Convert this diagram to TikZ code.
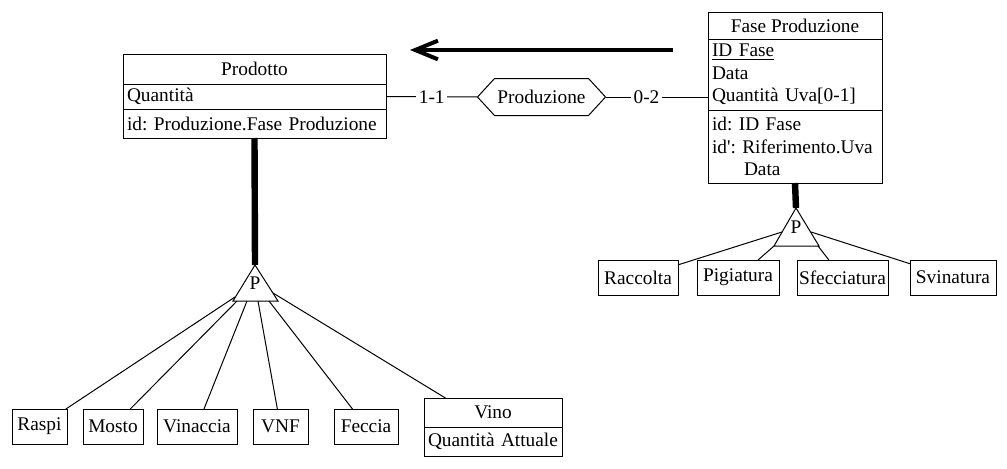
\documentclass[tikz,border=0pt]{standalone}
\usepackage{fontspec}
\setmainfont{Liberation Serif}
\usepackage{tikz}
\usetikzlibrary{arrows.meta}
\usetikzlibrary{fit}

\begin{document}
\begin{tikzpicture}[x=0.75pt, y=-0.75pt, line width=0.75pt,
    every node/.style={font=\fontsize{14.5}{16.9}\selectfont\frenchspacing},
    ent/.style={draw, rectangle, inner sep=0pt, outer sep=0pt},
    att/.style={ent, align=left, inner xsep=3pt},
    sub/.style={ent, minimum height=26.25pt},
    card/.style={fill=white, inner sep=2pt},
    isa/.style={line width=4.8pt}]
    \useasboundingbox (0,0) rectangle (1007,468);

    \node[ent, minimum width=197.25pt, minimum height=22.5pt] (prodotto) at (254.5,69) {Prodotto};
    \node[att, text width=191.25pt, minimum height=18.75pt] (prodq) at (254.5,96.5) {Quantità};
    \node[att, text width=191.25pt, minimum height=21.75pt] (prodid) at (254.5,123.5) {id: Produzione.Fase Produzione};

    \node[ent, minimum width=130.5pt, minimum height=20.25pt] (fase) at (795,25.5) {Fase Produzione};
    \node[att, text width=124.5pt, minimum height=53.25pt] (fasea) at (795,74.5) {\underline{ID Fase}\\Data\\Quantità Uva[0-1]};
    \node[att, text width=124.5pt, minimum height=54.75pt] (faseid) at (795,146.5) {id: ID Fase\\id\textquotesingle: Riferimento.Uva\\\hspace*{24pt}Data};

    \node[minimum width=95.25pt, minimum height=27pt, inner sep=0pt] (produzione) at (541.5,97) {Produzione};
    \draw (produzione.west) -- ([xshift=12.75pt]produzione.north west) -- ([xshift=-12.75pt]produzione.north east)
        -- (produzione.east) -- ([xshift=-12.75pt]produzione.south east) -- ([xshift=12.75pt]produzione.south west) -- cycle;
    \draw (prodq.east) -- node[card] (c11) {1-1} (produzione.west);
    \draw (produzione.east) -- node[card, pos=0.4] (c02) {0-2} (produzione.east -| fasea.west);

    \coordinate (freccia-a) at (673,50);
    \coordinate (freccia-b) at (410,50);
    \draw[line width=3pt, -{Straight Barb[length=17pt, width=14pt]}] (freccia-a) -- (freccia-b);

    % gerarchia prodotto
    \coordinate (tA) at (255,265);
    \coordinate (tL) at (233,301);
    \coordinate (tR) at (278,301);
    \draw (tA) -- (tL) -- (tR) -- cycle;
    \node[inner sep=0pt] (tp) at (255,283) {P};
    \draw[isa] (prodid.south) -- (tA);

    \node[sub, minimum width=41.25pt] (raspi) at (39.5,426.5) {Raspi};
    \node[sub, minimum width=45pt] (mosto) at (113,426.5) {Mosto};
    \node[sub, minimum width=60pt] (vinaccia) at (197,426.5) {Vinaccia};
    \node[sub, minimum width=41.25pt] (vnf) at (280.5,426.5) {VNF};
    \node[sub, minimum width=48pt] (feccia) at (366,426.5) {Feccia};
    \node[ent, minimum width=103.5pt, minimum height=21.75pt] (vino) at (493,412.5) {Vino};
    \node[att, text width=97.5pt, minimum height=21.75pt] (vinoq) at (493,441.5) {Quantità Attuale};
    \node[fit=(vino)(vinoq), inner sep=0pt, outer sep=0pt] (vinobox) {};

    \coordinate (t1) at (235,297);
    \coordinate (t2) at (237,301);
    \coordinate (t3) at (247,301);
    \coordinate (t4) at (258,301);
    \coordinate (t5) at (269,301);
    \coordinate (t6) at (273,293);
    \draw (t1) -- (raspi);
    \draw (t2) -- (mosto);
    \draw (t3) -- (vinaccia);
    \draw (t4) -- (vnf);
    \draw (t5) -- (feccia);
    \draw (t6) -- (vinobox);

    % gerarchia fase produzione
    \coordinate (uA) at (796,208);
    \coordinate (uL) at (774,246);
    \coordinate (uR) at (819,246);
    \draw (uA) -- (uL) -- (uR) -- cycle;
    \node[inner sep=0pt] (up) at (796,227) {P};
    \draw[isa] (faseid.south) -- (uA);

    \node[sub, minimum width=60pt] (raccolta) at (638,277.5) {Raccolta};
    \node[sub, minimum width=61.5pt] (pigiatura) at (738,277.5) {Pigiatura};
    \node[sub, minimum width=68.25pt] (sfecciatura) at (842.5,277.5) {Sfecciatura};
    \node[sub, minimum width=64.5pt] (svinatura) at (953,277.5) {Svinatura};

    \coordinate (u1) at (782,232);
    \coordinate (u2) at (774,246);
    \coordinate (u3) at (818,246);
    \coordinate (u4) at (811,232);
    \draw (u1) -- (raccolta);
    \draw (u2) -- (pigiatura);
    \draw (u3) -- (sfecciatura);
    \draw (u4) -- (svinatura);
\end{tikzpicture}
\end{document}
